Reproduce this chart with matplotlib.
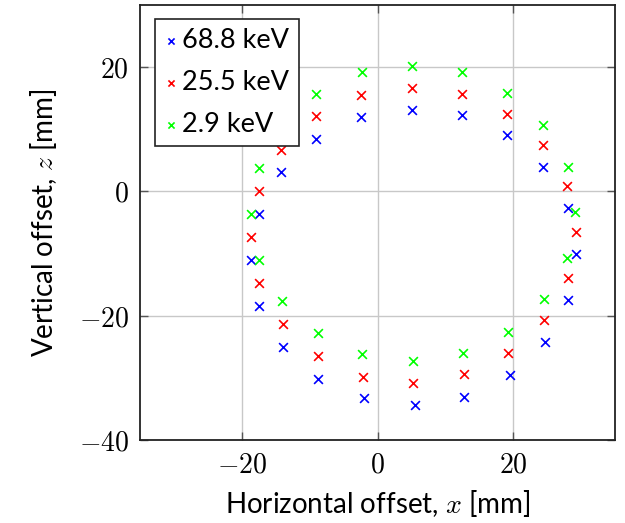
import matplotlib
matplotlib.use("Agg")
import matplotlib.pyplot as plt

plt.rcParams['mathtext.fontset'] = 'cm'
plt.rcParams['font.family'] = ['Lato', 'DejaVu Sans']

labels = ["68.8 keV", "25.5 keV", "2.9 keV"]
colors = ["#0000ff", "#ff0000", "#00ff00"]

x_68 = [-17.5, -14.2, -9.1, -2.4, 5.1, 12.5, 19.1, 24.4, 28.0, 29.2,
        28.1, 24.7, 19.5, 12.8, 5.5, -2.0, -8.7, -14.0, -17.4, -18.7]
z_68 = [-3.7, 3.1, 8.4, 11.9, 13.1, 12.3, 9.1, 3.9, -2.7, -10.1,
        -17.5, -24.2, -29.6, -33.0, -34.4, -33.3, -30.2, -25.0, -18.4, -11.0]

x_25 = [-17.5, -14.2, -9.1, -2.4, 5.1, 12.5, 19.1, 24.4, 27.9, 29.2,
        28.0, 24.6, 19.3, 12.8, 5.3, -2.1, -8.7, -14.0, -17.4, -18.6]
z_25 = [0.0, 6.7, 12.1, 15.5, 16.7, 15.7, 12.4, 7.4, 0.8, -6.6,
        -14.0, -20.7, -26.0, -29.4, -30.8, -29.8, -26.5, -21.4, -14.8, -7.4]

x_29 = [-18.7, -17.5, -14.2, -9.1, -2.3, 5.1, 12.5, 19.1, 24.4, 28.0,
        29.1, 27.9, 24.5, 19.3, 12.6, 5.2, -2.3, -8.8, -14.1, -17.5]
z_29 = [-3.7, 3.7, 10.4, 15.7, 19.2, 20.2, 19.2, 15.8, 10.7, 4.0,
        -3.3, -10.7, -17.3, -22.6, -26.0, -27.3, -26.1, -22.8, -17.7, -11.0]

xs = [x_68, x_25, x_29]
zs = [z_68, z_25, z_29]

x_ticks = [-20, 0, 20]
y_ticks = [-40, -20, 0, 20]

fig = plt.figure(figsize=(6.25, 5.23), dpi=100)
ax = fig.add_axes([140/625, 83/523, 475/625, 435/523])

for xv, zv, lab, c in zip(xs, zs, labels, colors):
    ax.scatter(xv, zv, marker='x', s=40, linewidths=1.2, color=c, label=lab, zorder=3)

ax.set_xlim(-35, 35)
ax.set_ylim(-40, 30)
ax.set_xticks(x_ticks)
ax.set_yticks(y_ticks)
ax.set_xticklabels([f"${v}$" if v >= 0 else f"$-{abs(v)}$" for v in x_ticks])
ax.set_yticklabels([f"${v}$" if v >= 0 else f"$-{abs(v)}$" for v in y_ticks])
ax.grid(True, color='#c8c8c8', linewidth=1.0, zorder=0)
ax.set_axisbelow(True)
ax.tick_params(direction='in', top=True, right=True, length=6, width=1.0,
               color='#555555', labelsize=20, pad=8)
for sp in ax.spines.values():
    sp.set_linewidth(1.3)
    sp.set_color('#222222')

ax.set_xlabel("Horizontal offset, $x$ [mm]", fontsize=20, labelpad=8)
ax.set_ylabel("Vertical offset, $z$ [mm]", fontsize=20, labelpad=14)

leg = ax.legend(loc='upper left', bbox_to_anchor=(0.0316, 0.968), borderaxespad=0,
                fontsize=19.5, frameon=True, fancybox=False, edgecolor='#222222',
                framealpha=1, handletextpad=0.2, handlelength=0.45,
                borderpad=0.35, labelspacing=0.62, markerscale=0.7)
leg.get_frame().set_linewidth(1.2)
leg.set_zorder(5)

fig.savefig("out.png", dpi=100)
